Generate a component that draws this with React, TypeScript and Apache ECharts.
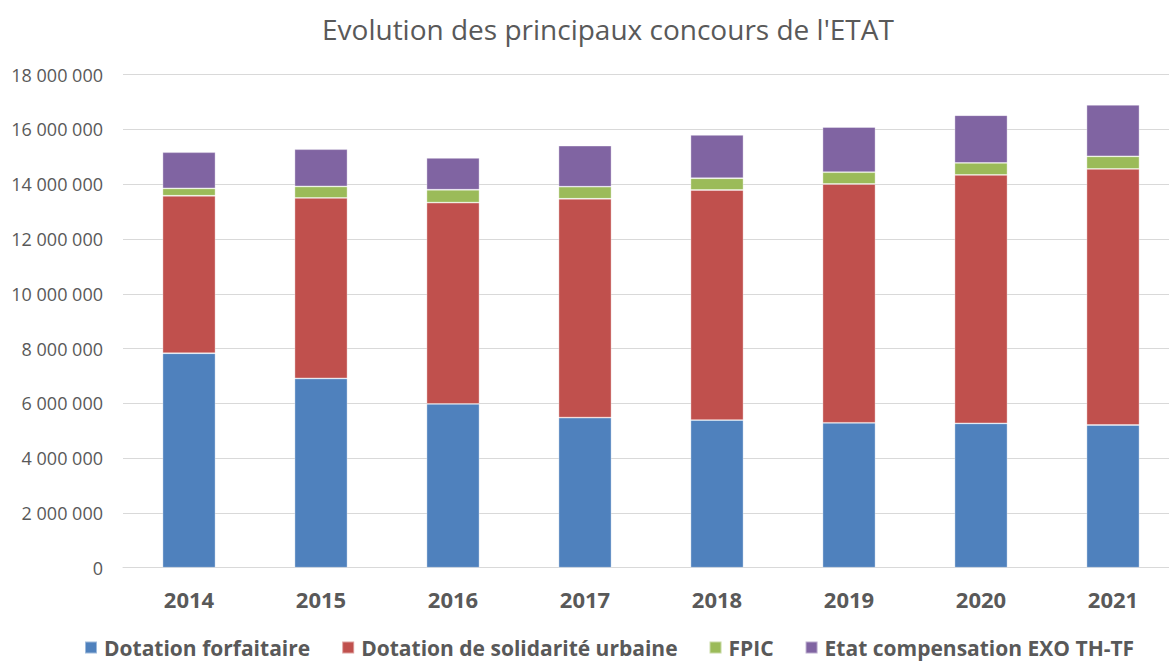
import React, { useEffect, useRef } from "react";
import * as echarts from "echarts";

const categories = ["2014", "2015", "2016", "2017", "2018", "2019", "2020", "2021"];
const dotationForfaitaire = [7830000, 6910000, 5980000, 5480000, 5390000, 5290000, 5270000, 5210000];
const dotationSolidarite = [5750000, 6590000, 7350000, 7990000, 8400000, 8720000, 9070000, 9350000];
const fpic = [270000, 420000, 470000, 440000, 430000, 430000, 440000, 460000];
const etatCompensation = [1320000, 1360000, 1160000, 1500000, 1580000, 1650000, 1740000, 1880000];

const seriesNames = [
  "Dotation forfaitaire",
  "Dotation de solidarité urbaine",
  "FPIC",
  "Etat compensation EXO TH-TF",
];
const colors = ["#4F81BD", "#C0504D", "#9BBB59", "#8064A2"];

const fmt = (v: number) => String(v).replace(/\B(?=(\d{3})+(?!\d))/g, " ");

export default function App() {
  const ref = useRef<HTMLDivElement>(null);
  useEffect(() => {
    if (!ref.current) return;
    const chart = echarts.init(ref.current, undefined, { renderer: "svg" });
    const datas = [dotationForfaitaire, dotationSolidarite, fpic, etatCompensation];
    chart.setOption({
      animation: false,
      backgroundColor: "#ffffff",
      title: {
        text: "Evolution des principaux concours de l'ETAT",
        left: 317,
        top: 10,
        textStyle: {
          fontFamily: "Open Sans",
          fontWeight: "normal",
          fontSize: 28,
          color: "#595959",
        },
      },
      legend: {
        left: 79,
        top: 632,
        itemWidth: 12,
        itemHeight: 12,
        itemGap: 31,
        icon: "rect",
        data: seriesNames,
        textStyle: {
          fontFamily: "Open Sans",
          fontWeight: "bold",
          fontSize: 21,
          color: "#595959",
          padding: [0, 0, 0, 2],
        },
      },
      grid: {
        left: 123,
        top: 74.7,
        right: 1,
        height: 493,
        containLabel: false,
      },
      xAxis: {
        type: "category",
        data: categories,
        axisLine: { show: true, lineStyle: { color: "#d9d9d9", width: 1 } },
        axisTick: { show: false },
        axisLabel: {
          margin: 20,
          fontFamily: "Open Sans",
          fontWeight: "bold",
          fontSize: 22,
          color: "#595959",
        },
      },
      yAxis: {
        type: "value",
        min: 0,
        max: 18000000,
        interval: 2000000,
        axisLine: { show: false },
        axisTick: { show: false },
        splitLine: { lineStyle: { color: "#d9d9d9", width: 1 } },
        axisLabel: {
          margin: 20,
          fontFamily: "Open Sans",
          fontSize: 18,
          color: "#595959",
          formatter: (v: number) => fmt(v),
        },
      },
      series: datas.map((d, i) => ({
        name: seriesNames[i],
        type: "bar",
        stack: "total",
        data: d,
        barWidth: 53,
        itemStyle: {
          color: colors[i],
          borderColor: "rgba(255,255,255,0.45)",
          borderWidth: 0.8,
        },
      })),
    });
    return () => chart.dispose();
  }, []);
  return (
    <div
      style={{
        position: "absolute",
        left: 0,
        top: 0,
        width: "1169px",
        height: "661px",
        overflow: "hidden",
      }}
    >
      <div ref={ref} style={{ width: "1180px", height: "661px" }} />
    </div>
  );
}
